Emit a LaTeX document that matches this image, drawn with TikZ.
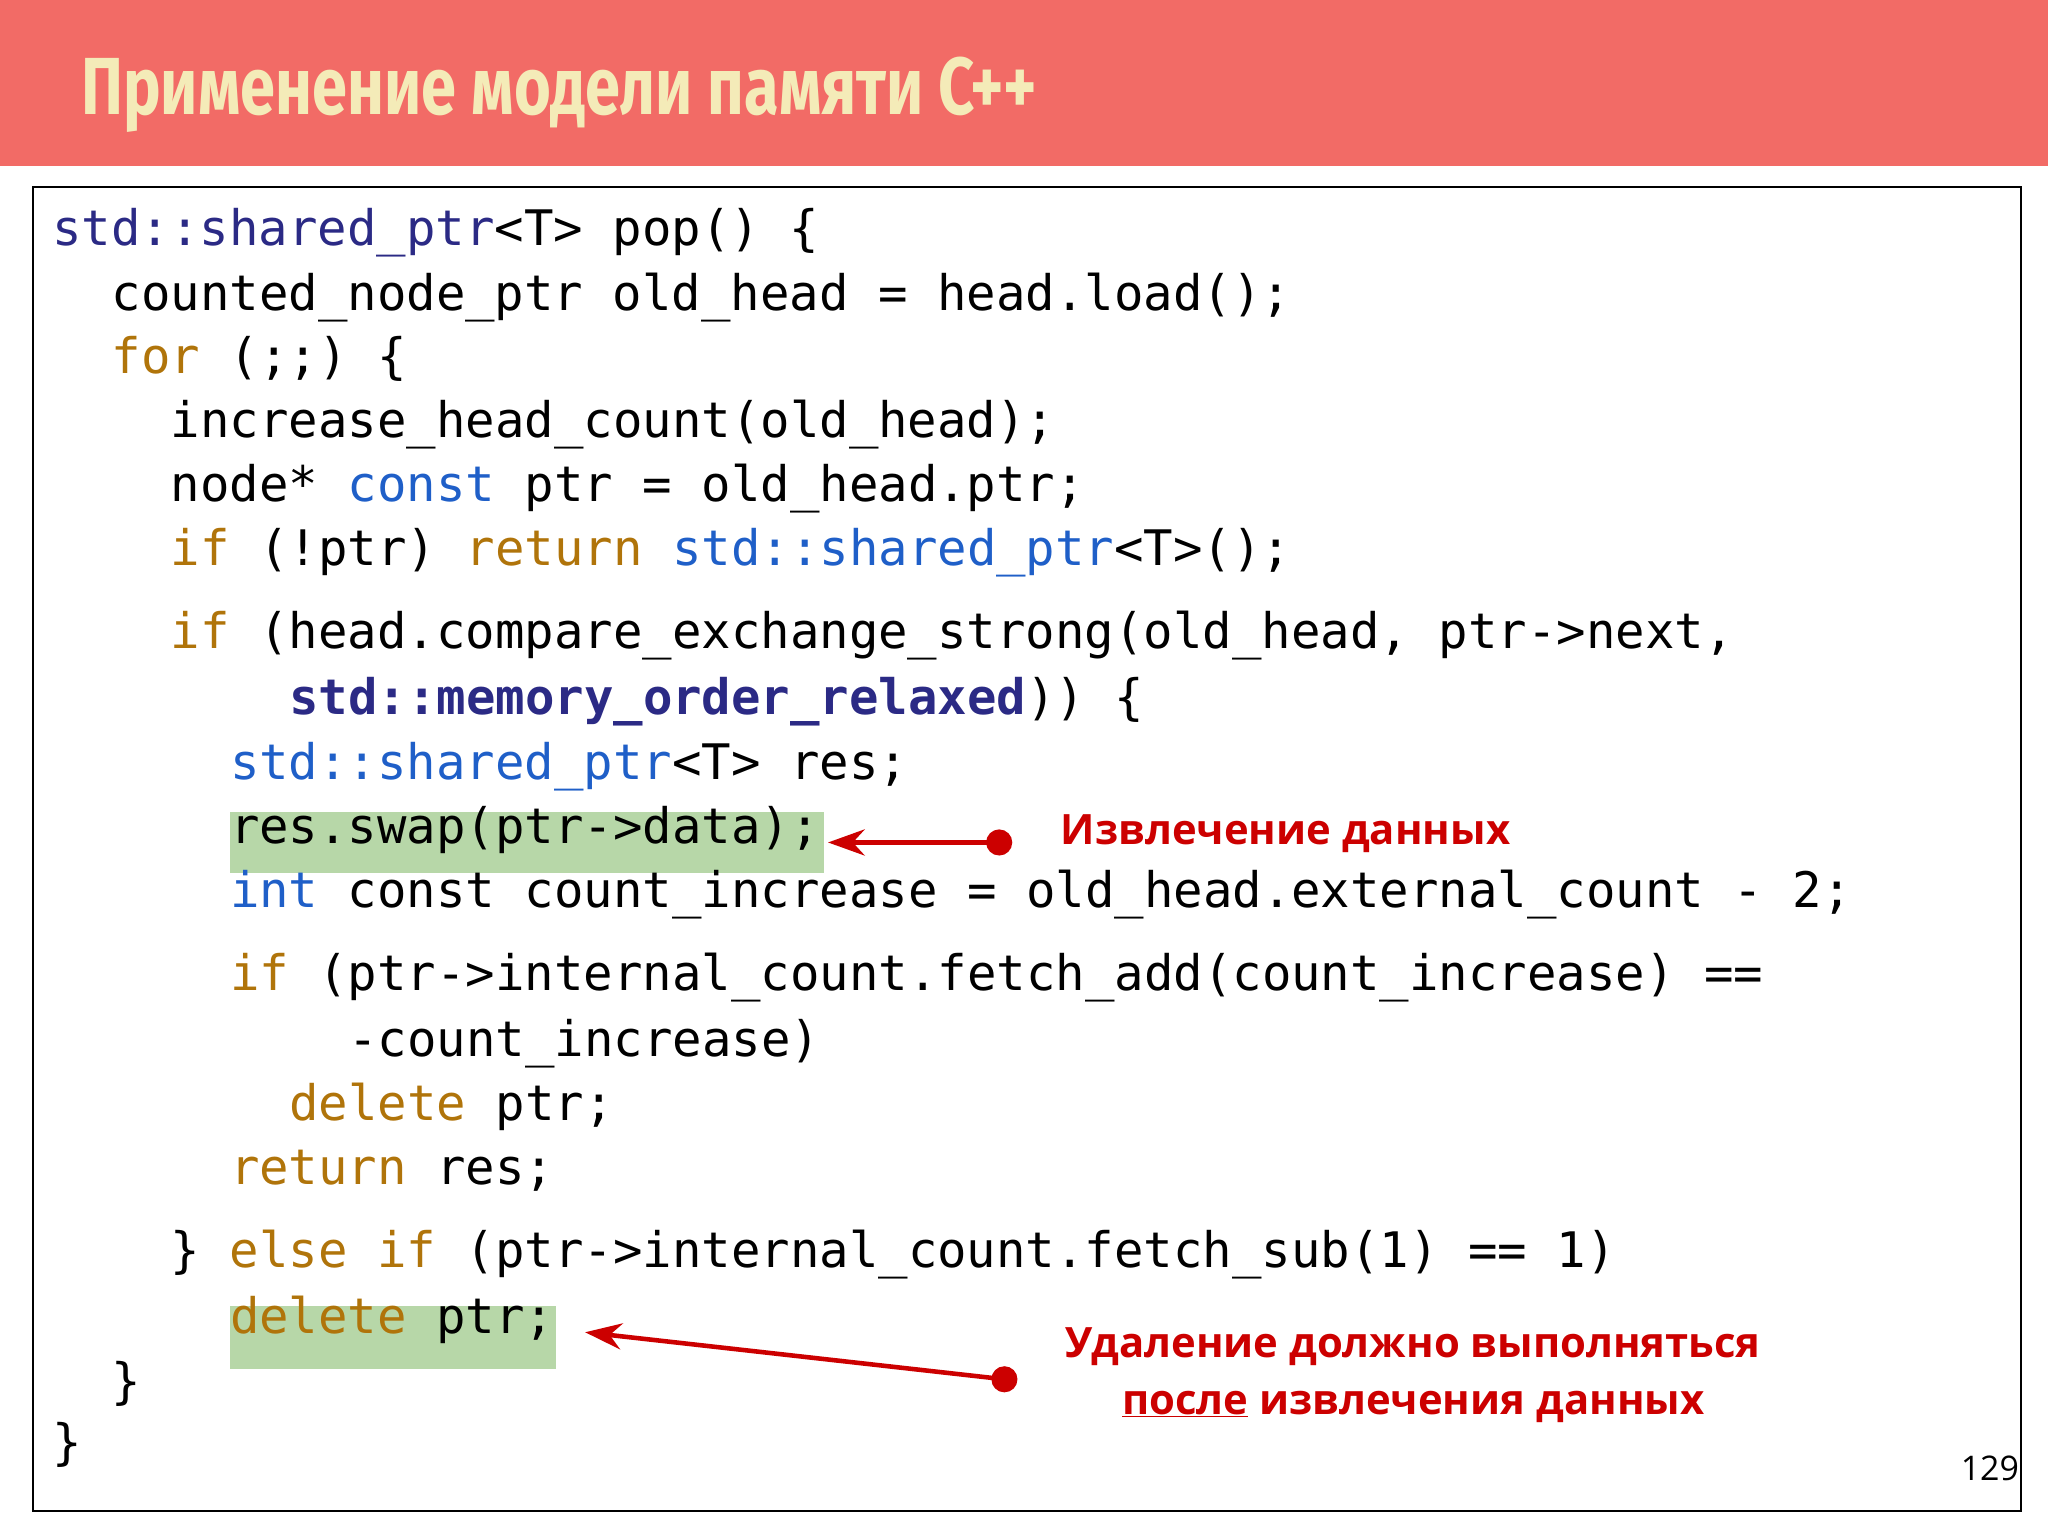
\documentclass[tikz,border=0pt]{standalone}
\usepackage{fontspec}
\setmainfont{Open Sans}
\newfontfamily\code{DejaVu Sans Mono}
\newfontfamily\titlef{Fira Sans}
\usetikzlibrary{arrows.meta}
\definecolor{hdr}{HTML}{F26B66}
\definecolor{ttl}{HTML}{F4EBB8}
\definecolor{kw}{HTML}{B0740A}
\definecolor{bl}{HTML}{1F5FC8}
\definecolor{nv}{HTML}{2B2A85}
\definecolor{hl}{HTML}{B7D7A8}
\definecolor{rd}{HTML}{CC0000}
\newcommand{\K}[1]{\textcolor{kw}{#1}}
\newcommand{\B}[1]{\textcolor{bl}{#1}}
\newcommand{\N}[1]{\textcolor{nv}{#1}}
\begin{document}
\begin{tikzpicture}[x=1pt,y=-1pt,
  cl/.style={anchor=mid west,inner sep=0pt,font=\code\fontsize{37.5}{40}\selectfont},
  lab/.style={font=\bfseries\fontsize{32}{40}\selectfont,text=rd,inner sep=0pt}]
\useasboundingbox (0,0) rectangle (1568,1176);
\fill[white] (0,0) rectangle (1568,1176);
\fill[hdr] (0,0) rectangle (1568,127);
\node[anchor=base west,inner sep=0pt,text=ttl] (title) at (62,88) {\scalebox{0.78}[1]{\titlef\bfseries\fontsize{62}{70}\selectfont Применение модели памяти C++}};
\draw[black,line width=1.5pt] (25,143) rectangle (1547,1157);
\fill[hl] (176,622) rectangle (631,668);
\fill[hl] (176,1000) rectangle (426,1048);
\def\cw{22.65}
\node[cl] (l1) at (40,185) {\N{std::shared\_ptr}<T> pop() \{};
\node[cl] (l2) at (40+2*\cw,235) {counted\_node\_ptr old\_head = head.load();};
\node[cl] (l3) at (40+2*\cw,283) {\K{for} (;;) \{};
\node[cl] (l4) at (40+4*\cw,332) {increase\_head\_count(old\_head);};
\node[cl] (l5) at (40+4*\cw,381) {node* \B{const} ptr = old\_head.ptr;};
\node[cl] (l6) at (40+4*\cw,430) {\K{if} (!ptr) \K{return} \B{std::shared\_ptr}<T>();};
\node[cl] (l7) at (40+4*\cw,494) {\K{if} (head.compare\_exchange\_strong(old\_head, ptr->next,};
\node[cl] (l8) at (40+8*\cw,544) {\textbf{\N{std::memory\_order\_relaxed}})) \{};
\node[cl] (l9) at (40+6*\cw,594) {\B{std::shared\_ptr}<T> res;};
\node[cl] (l10) at (40+6*\cw,643) {res.swap(ptr->data);};
\node[cl] (l11) at (40+6*\cw,692) {\B{int} const count\_increase = old\_head.external\_count - 2;};
\node[cl] (l12) at (40+6*\cw,756) {\K{if} (ptr->internal\_count.fetch\_add(count\_increase) ==};
\node[cl] (l13) at (40+10*\cw,806) {-count\_increase)};
\node[cl] (l14) at (40+8*\cw,855) {\K{delete} ptr;};
\node[cl] (l15) at (40+6*\cw,904) {\K{return} res;};
\node[cl] (l16) at (40+4*\cw,968) {\} \K{else if} (ptr->internal\_count.fetch\_sub(1) == 1)};
\node[cl] (l17) at (40+6*\cw,1018) {\K{delete} ptr;};
\node[cl] (l18) at (40+2*\cw,1068) {\}};
\node[cl] (l19) at (40,1115) {\}};
\coordinate (d1) at (765,645);
\coordinate (a1) at (634,645);
\coordinate (d2) at (769,1056);
\coordinate (a2) at (448,1020);
\fill[rd] (d1) circle (10);
\fill[rd] (d2) circle (10);
\draw[rd,line width=3.5pt,-{Stealth[length=28pt,width=20pt]}] (d1) -- (a1);
\draw[rd,line width=3.5pt,-{Stealth[length=28pt,width=20pt]}] (d2) -- (a2);
\node[lab,anchor=mid west] (t1) at (812,644) {Извлечение данных};
\node[lab,anchor=mid] (t2) at (1082,1037) {Удаление должно выполняться};
\node[lab,anchor=mid] (t3) at (1082,1080) {\underline{после} извлечения данных};
\node[anchor=mid east,inner sep=0pt,font=\fontsize{26}{30}\selectfont] (pg) at (1546,1131) {129};
\end{tikzpicture}
\end{document}
